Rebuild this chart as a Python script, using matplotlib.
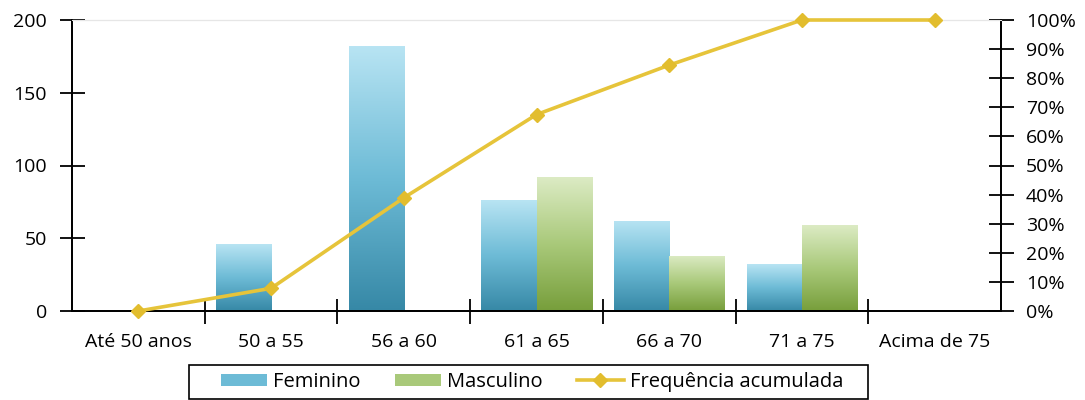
import numpy as np
import matplotlib
matplotlib.use("Agg")
import matplotlib.pyplot as plt
from matplotlib.colors import LinearSegmentedColormap
from matplotlib.ticker import FuncFormatter
from matplotlib.patches import Patch, Rectangle

plt.rcParams['font.family'] = ['Open Sans', 'DejaVu Sans']

faixas = ['Até 50 anos', '50 a 55', '56 a 60', '61 a 65', '66 a 70', '71 a 75', 'Acima de 75']
feminino = [0, 46, 182, 76, 62, 32, 0]
masculino = [0, 0, 1, 92, 38, 59, 0]
freq_acum = [0, 7.8, 38.9, 67.5, 84.5, 100, 100]

W, H = 1085, 400
fig = plt.figure(figsize=(W / 100, H / 100), dpi=100)
ax = fig.add_axes([72 / W, 1 - 311 / H, 929 / W, 291 / H])
ax2 = ax.twinx()

x = np.arange(len(faixas)) + 0.5
width = 0.415

# gradiente claro em cima, escuro em baixo
cmap_f = LinearSegmentedColormap.from_list('f', ['#3688a6', '#6dbbd6', '#b8e4f3'])
cmap_m = LinearSegmentedColormap.from_list('m', ['#779e3b', '#a9c97a', '#dcebc4'])
grad = np.linspace(0, 1, 256).reshape(-1, 1)

bars_f = ax.bar(x - width / 2, feminino, width, color='#6dbbd6', zorder=2)
bars_m = ax.bar(x + width / 2, masculino, width, color='#a9c97a', zorder=2)
for bars, cm in ((bars_f, cmap_f), (bars_m, cmap_m)):
    for b in bars:
        h = b.get_height()
        if h <= 0:
            continue
        x0 = b.get_x()
        im = ax.imshow(grad, cmap=cm, origin='lower', aspect='auto',
                       extent=(x0, x0 + b.get_width(), 0, h), zorder=2.5)
        im.set_clip_path(b)
        b.set_alpha(0)

fs = 14
ax.set_xlim(0, 7)
ax.set_ylim(0, 200)
ax.set_yticks([0, 50, 100, 150, 200])
ax.set_xticks(np.arange(1, 7))
ax.set_xticklabels([])
ax.set_xticks(x, minor=True)
ax.set_xticklabels(faixas, minor=True)
ax.tick_params(axis='x', which='major', direction='inout', length=18, width=1.3)
ax.tick_params(axis='x', which='minor', length=0, pad=16, labelsize=fs)
ax.tick_params(axis='y', direction='inout', length=18, width=1.3, labelsize=fs, pad=9)

ln, = ax2.plot(x, freq_acum, color='#e6c43a', lw=2.6, marker='D', markersize=7.5,
               markerfacecolor='#e2bd2e', markeredgecolor='#e2bd2e',
               zorder=3, clip_on=False)
ax2.set_ylim(0, 100)
ax2.set_yticks(np.arange(0, 101, 10))
ax2.yaxis.set_major_formatter(FuncFormatter(lambda v, p: f'{int(v)}%'))
ax2.tick_params(axis='y', direction='inout', length=18, width=1.3, labelsize=fs, pad=9)

for a in (ax, ax2):
    a.spines['top'].set_color('#e6e6e6')
    a.spines['left'].set_linewidth(1.3)
    a.spines['right'].set_linewidth(1.3)
    a.spines['bottom'].set_linewidth(1.3)
ax.set_zorder(1)
ax2.set_zorder(2)
ax2.patch.set_visible(False)

h_f = Patch(facecolor='#6dbbd6')
h_m = Patch(facecolor='#a9c97a')
leg = fig.legend([h_f, h_m, ln], ['Feminino', 'Masculino', 'Frequência acumulada'],
                 loc='center', bbox_to_anchor=(532 / W, 1 - 382 / H), ncol=3,
                 fontsize=14.5, frameon=False,
                 handlelength=2.3, handleheight=0.6, columnspacing=1.7,
                 handletextpad=0.3, borderpad=0.2, borderaxespad=0)
# moldura da legenda
fig.patches.append(Rectangle((189 / W, 1 - 399 / H), 679 / W, 34 / H,
                             transform=fig.transFigure, fill=False,
                             edgecolor='black', lw=1.2))

fig.savefig('out.png', dpi=100)
